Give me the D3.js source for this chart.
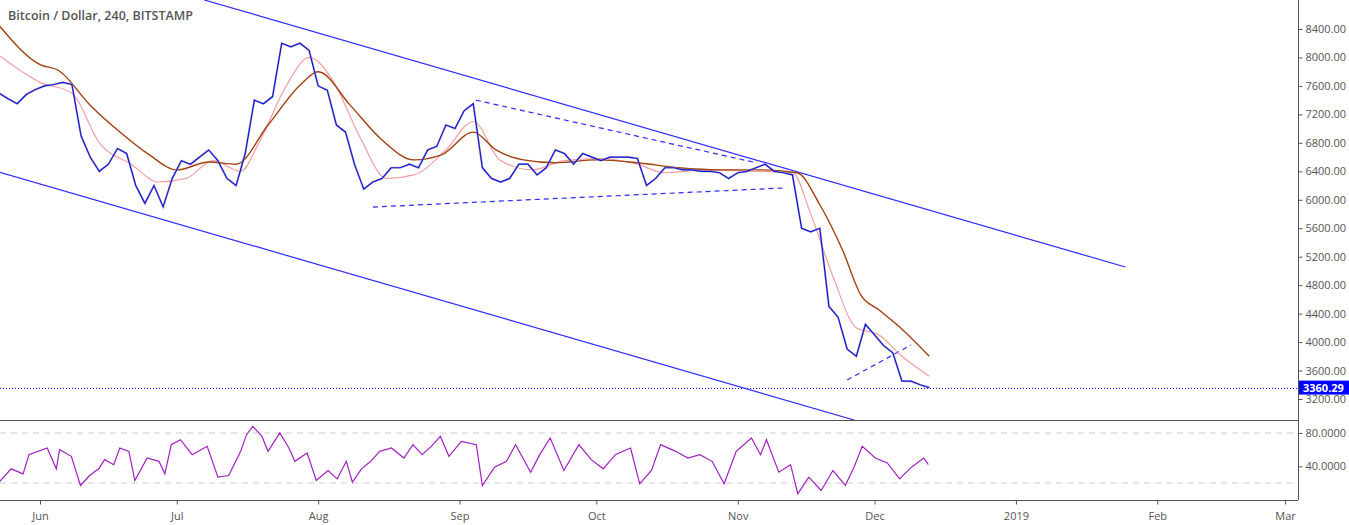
<!DOCTYPE html>
<html><head><meta charset="utf-8">
<script src="https://cdn.jsdelivr.net/npm/d3@7"></script>
<style>body{margin:0;background:#fff}text{font-family:"Open Sans",Arial,sans-serif}</style>
</head><body><svg id="chart" width="1349" height="525"></svg>
<script>
// price closes, one every 2 days from May 23 2018
var priceCloses = [7500,7420,7350,7480,7550,7600,7620,7650,7620,6900,6600,6400,6500,6720,6650,6200,5950,6200,5900,6300,
  6550,6500,6600,6700,6550,6300,6200,6650,7400,7350,7450,8200,8150,8200,8100,7600,7540,7050,6950,6490,
  6150,6250,6300,6450,6450,6500,6450,6700,6750,7050,7000,7250,7350,6450,6300,6250,6300,6500,6500,6350,
  6450,6700,6650,6500,6650,6600,6550,6600,6600,6600,6580,6200,6300,6450,6450,6420,6420,6400,6400,6380,
  6300,6380,6400,6450,6500,6400,6380,6350,5600,5550,5600,4500,4350,3900,3800,4250,4100,3950,3850,3450,
  3450,3400,3360];
// slow and fast moving averages [day offset, value]
var maSlow = [[0,8450],[9,7900],[13,7820],[20,7330],[26,6980],[33,6630],[39,6420],[46,6530],[52,6500],[59,7050],
  [66,7610],[70,7800],[77,7330],[84,6840],[91,6560],[97,6630],[104,6950],[109,6700],[115,6560],[122,6520],
  [131,6560],[140,6520],[149,6450],[158,6420],[167,6420],[175,6380],[180,5930],[185,5290],[189,4660],[193,4450],[197,4240],[204,3800]];
var maFast = [[0,8030],[9,7650],[16,7500],[22,6800],[29,6500],[35,6250],[41,6300],[47,6550],[53,6400],[57,6800],
  [63,7600],[68,8000],[73,7700],[79,6900],[85,6300],[91,6350],[98,6700],[104,7100],[110,6550],[117,6420],
  [124,6550],[132,6580],[140,6500],[146,6380],[155,6420],[166,6400],[174,6380],[178,5800],[183,4900],[188,4200],[193,4100],[198,3800],[204,3520]];
var rsiPoints = [[0,21],[2.7,37],[5.3,31],[6.6,54],[10.6,62],[12.6,37],[13.3,60],[15.9,52],[17.9,17],[19.9,29],[21.9,37],[23.2,48],
  [25.2,42],[26.5,62],[28.5,58],[29.8,23],[32.5,50],[35.1,46],[36.4,31],[37.8,66],[39.8,72],[42.4,54],[45.7,64],[48,27],
  [50.4,29],[53,58],[54.3,78],[55.7,88],[57.7,76],[59,58],[61.6,80],[63.6,62],[64.9,46],[67.6,56],[69.6,23],[72.2,35],
  [74.2,25],[76.2,46],[77.5,21],[79.5,37],[81.5,46],[83.5,58],[86.1,62],[88.8,50],[90.8,66],[92.8,54],[94.8,64],[96.8,76],
  [98.7,52],[101.4,70],[104.7,66],[106,17],[108.7,39],[111.3,46],[113.3,66],[116.6,33],[118.6,54],[120.9,74],[123.9,35],
  [127.2,66],[129.9,48],[132.5,37],[135.2,54],[138.5,62],[140.5,19],[143.1,35],[145.1,66],[148.4,58],[151.1,50],[153.7,54],
  [156.4,46],[159,19],[161.7,58],[165,74],[167,54],[168.3,72],[171,33],[173.6,42],[175.2,7],[177.6,27],[180.3,11],[182.9,35],
  [185.6,17],[187.5,39],[189.3,64],[192.2,50],[194.8,44],[197.5,25],[200.1,39],[202.8,50],[203.8,42]];
// trend lines [[day, price],[day, price]]
var trendLines = [
  {pts:[[45,8808],[247,5055]], dash:null},
  {pts:[[0,6390],[187.5,2905]], dash:null},
  {pts:[[104.6,7400],[166.3,6517]], dash:"5,4"},
  {pts:[[82,5898],[171.8,6165]], dash:"5,4"},
  {pts:[[186,3467],[200,3959]], dash:"5,4"}];
var priceTicks = [3200,3600,4000,4400,4800,5200,5600,6000,6400,6800,7200,7600,8000,8400];
var rsiTicks = [40,80];
var lastPrice = 3360.29;
var timeLabels = ["Jun","Jul","Aug","Sep","Oct","Nov","Dec","2019","Feb","Mar"];
var timeTicks = ["2018-06-01","2018-07-01","2018-08-01","2018-09-01","2018-10-01","2018-11-01","2018-12-01","2019-01-01","2019-02-01","2019-03-01"];

var start = new Date(2018,4,23);
var day = function(d){ return d3.timeHour.offset(start, d*24); };
var svg = d3.select("#chart");
var W = 1298;
var x = d3.scaleTime().domain([new Date(2018,5,1), new Date(2019,2,1)]).range([40,1285]);
var y = d3.scaleLinear().domain([3200,8400]).range([399,29]);
var yr = d3.scaleLinear().domain([20,80]).range([483,433]);

svg.append("clipPath").attr("id","cp").append("rect").attr("width",W).attr("height",420);
var gp = svg.append("g").attr("clip-path","url(#cp)");

var line = d3.line().x(function(d){return x(day(d[0]));}).y(function(d){return y(d[1]);});
var smooth = d3.line().curve(d3.curveMonotoneX).x(function(d){return x(day(d[0]));}).y(function(d){return y(d[1]);});
var priceData = priceCloses.map(function(v,i){return [i*2,v];});

gp.append("line").attr("x1",0).attr("x2",W).attr("y1",Math.round(y(lastPrice))+0.5).attr("y2",Math.round(y(lastPrice))+0.5)
  .attr("stroke","#0000ff").attr("stroke-dasharray","1,2");
trendLines.forEach(function(t){
  gp.append("path").attr("d",line(t.pts)).attr("fill","none").attr("stroke","#2b2bff")
    .attr("stroke-width",1.2).attr("stroke-dasharray",t.dash);
});
gp.append("path").attr("fill","none").attr("stroke","#f4a0a0").attr("stroke-width",1.2).attr("d",smooth(maFast));
gp.append("path").attr("fill","none").attr("stroke","#a0400f").attr("stroke-width",1.4).attr("d",smooth(maSlow));
gp.append("path").attr("d",line(priceData)).attr("fill","none").attr("stroke","#aaa").attr("stroke-width",2.2).attr("opacity",0.7);
gp.append("path").attr("d",line(priceData)).attr("fill","none").attr("stroke","#1010e0").attr("stroke-width",1.2);

// RSI pane
svg.selectAll(".rd").data([20,80]).enter().append("line").attr("x1",0).attr("x2",W)
  .attr("y1",function(d){return yr(d);}).attr("y2",function(d){return yr(d);})
  .attr("stroke","#ccc").attr("stroke-dasharray","6,5");
var rline = d3.line().x(function(d){return x(day(d[0]));}).y(function(d){return yr(d[1]);});
svg.append("path").attr("d",rline(rsiPoints)).attr("fill","none").attr("stroke","#a020c0").attr("stroke-width",1.2);

// frame
svg.append("line").attr("x1",0).attr("x2",W).attr("y1",420.5).attr("y2",420.5).attr("stroke","#555");
svg.append("line").attr("x1",0).attr("x2",W).attr("y1",500.5).attr("y2",500.5).attr("stroke","#555");
svg.append("line").attr("x1",W+0.5).attr("x2",W+0.5).attr("y1",0).attr("y2",500).attr("stroke","#555");

function styleAxis(g){g.select(".domain").remove();g.selectAll("text").attr("fill","#555").style("font-size","11px");g.selectAll("line").attr("stroke","#555");}
svg.append("g").attr("transform","translate("+(W+0.5)+",0)")
  .call(d3.axisRight(y).tickValues(priceTicks).tickSize(4).tickFormat(d3.format(".2f"))).call(styleAxis);
svg.append("g").attr("transform","translate("+(W+0.5)+",0)")
  .call(d3.axisRight(yr).tickValues(rsiTicks).tickSize(4).tickFormat(d3.format(".4f"))).call(styleAxis);
svg.append("g").attr("transform","translate(0,500.5)")
  .call(d3.axisBottom(x).tickValues(timeTicks.map(function(s){return d3.timeParse("%Y-%m-%d")(s);})).tickSize(4)
    .tickFormat(function(d,i){return timeLabels[i];}))
  .call(styleAxis).call(function(g){g.selectAll("text").attr("dy","1.1em");});

// last price tag
svg.append("rect").attr("x",W+1).attr("y",y(lastPrice)-7).attr("width",50).attr("height",14).attr("fill","#0000ff");
svg.append("text").attr("x",W+5).attr("y",y(lastPrice)+4).attr("fill","#fff").style("font-size","11px")
  .style("font-weight","bold").text(d3.format(".2f")(lastPrice));

svg.append("text").attr("x",8).attr("y",20).attr("fill","#555").style("font-size","12.5px").style("font-weight","600")
  .text("Bitcoin / Dollar, 240, BITSTAMP");
</script></body></html>
